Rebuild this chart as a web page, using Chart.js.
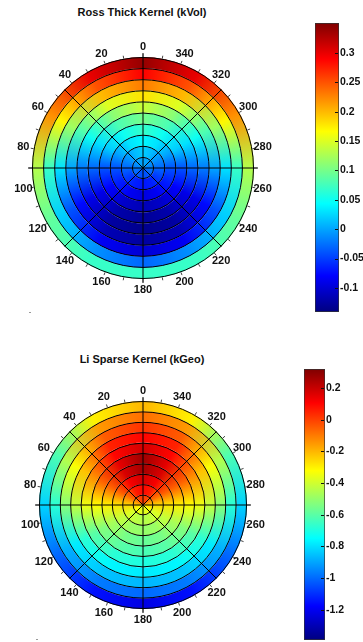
<!DOCTYPE html>
<html>
<head>
<meta charset="utf-8">
<script src="https://cdn.jsdelivr.net/npm/chart.js@4.4.1/dist/chart.umd.min.js"></script>
<style>
  body { margin: 0; width: 363px; height: 642px; position: relative; overflow: hidden; background: #fff;
         font-family: "Liberation Sans", Arial, sans-serif; }
  .title { position: absolute; left: 0; width: 284px; text-align: center; font-weight: bold; font-size: 11px;
           line-height: 13px; color: #111; }
  canvas { position: absolute; }
  .dot { position: absolute; width: 2px; height: 1px; background: #999; }
</style>
</head>
<body>
<div class="title" style="top:6px">Ross Thick Kernel (kVol)</div>
<canvas id="volPolar" width="286" height="286" style="left:0;top:25px"></canvas>
<canvas id="volBar" width="48" height="309" style="left:315px;top:13px"></canvas>
<div class="dot" style="left:29px;top:312px"></div>

<div class="title" style="top:353px">Li Sparse Kernel (kGeo)</div>
<canvas id="geoPolar" width="286" height="286" style="left:0;top:362px"></canvas>
<canvas id="geoBar" width="59" height="291" style="left:304px;top:359px"></canvas>
<div class="dot" style="left:36px;top:639px"></div>

<script>
// azimuth of each sample (deg, counter-clockwise from the top), shared by both plots
const azimuths = [0, 30, 60, 90, 120, 150, 180, 210, 240, 270, 300, 330];

// Ross Thick kernel, one row per ring (centre -> rim), values at the azimuths above
const volRings = [
  [0.00, 0.00, -0.01, -0.02, -0.03, -0.04, -0.04, -0.04, -0.03, -0.02, -0.01, 0.00],
  [0.02, 0.01, -0.01, -0.03, -0.05, -0.065, -0.07, -0.065, -0.05, -0.03, -0.01, 0.01],
  [0.04, 0.03, 0.00, -0.04, -0.065, -0.085, -0.095, -0.085, -0.065, -0.04, 0.00, 0.03],
  [0.07, 0.05, 0.02, -0.04, -0.08, -0.105, -0.115, -0.105, -0.08, -0.04, 0.02, 0.05],
  [0.10, 0.08, 0.03, -0.03, -0.09, -0.12, -0.13, -0.12, -0.09, -0.03, 0.03, 0.08],
  [0.14, 0.11, 0.05, -0.02, -0.09, -0.125, -0.135, -0.125, -0.09, -0.02, 0.05, 0.11],
  [0.18, 0.15, 0.08, 0.00, -0.075, -0.115, -0.125, -0.115, -0.075, 0.00, 0.08, 0.15],
  [0.23, 0.20, 0.12, 0.03, -0.04, -0.085, -0.10, -0.085, -0.04, 0.03, 0.12, 0.20],
  [0.29, 0.25, 0.17, 0.07, 0.02, -0.01, -0.03, -0.01, 0.02, 0.07, 0.17, 0.25],
  [0.34, 0.30, 0.22, 0.13, 0.09, 0.07, 0.07, 0.07, 0.09, 0.13, 0.22, 0.30]
];
const volRange = [-0.141, 0.351];
const volTicks = [-0.1, -0.05, 0, 0.05, 0.1, 0.15, 0.2, 0.25, 0.3];

// Li Sparse kernel, same layout
const geoRings = [
  [0.00, 0.00, -0.12, -0.24, -0.33, -0.36, -0.38, -0.36, -0.33, -0.24, -0.12, 0.00],
  [0.10, 0.06, -0.08, -0.26, -0.38, -0.43, -0.45, -0.43, -0.38, -0.26, -0.08, 0.06],
  [0.18, 0.12, -0.05, -0.28, -0.42, -0.49, -0.50, -0.49, -0.42, -0.28, -0.05, 0.12],
  [0.26, 0.17, -0.05, -0.30, -0.47, -0.55, -0.58, -0.55, -0.47, -0.30, -0.05, 0.17],
  [0.27, 0.15, -0.06, -0.32, -0.53, -0.60, -0.63, -0.60, -0.53, -0.32, -0.06, 0.15],
  [0.18, 0.10, -0.13, -0.35, -0.60, -0.68, -0.70, -0.68, -0.60, -0.35, -0.13, 0.10],
  [0.10, 0.05, -0.22, -0.42, -0.68, -0.76, -0.78, -0.76, -0.68, -0.42, -0.22, 0.05],
  [0.02, -0.05, -0.33, -0.52, -0.78, -0.85, -0.87, -0.85, -0.78, -0.52, -0.33, -0.05],
  [-0.08, -0.15, -0.45, -0.68, -0.88, -0.97, -1.00, -0.97, -0.88, -0.68, -0.45, -0.15],
  [-0.20, -0.30, -0.62, -0.82, -1.00, -1.15, -1.22, -1.15, -1.00, -0.82, -0.62, -0.30]
];
const geoRange = [-1.39, 0.32];
const geoTicks = [-1.2, -1, -0.8, -0.6, -0.4, -0.2, 0, 0.2];

const angleLabels = [0, 20, 40, 60, 80, 100, 120, 140, 160, 180, 200, 220, 240, 260, 280, 300, 320, 340];
const spokeAngles = [0, 45, 90, 135, 180, 225, 270, 315];

const FONT_FAMILY = '"Liberation Sans", Arial, sans-serif';

function jet(f) {
  f = Math.min(1, Math.max(0, f));
  const c = (v) => Math.round(255 * Math.min(1, Math.max(0, v)));
  const r = c(1.5 - Math.abs(4 * f - 3));
  const g = c(1.5 - Math.abs(4 * f - 2));
  const b = c(1.5 - Math.abs(4 * f - 1));
  return `rgb(${r},${g},${b})`;
}

// canvas angle for an azimuth measured counter-clockwise from the top
const toRad = (az) => (-90 - az) * Math.PI / 180;

const polarGrid = {
  id: "polarGrid",
  afterDatasetsDraw(chart) {
    const ctx = chart.ctx;
    const arcs = chart.data.datasets.map((d, i) => chart.getDatasetMeta(i).data[0]);
    const cx = arcs[0].x;
    const cy = arcs[0].y;
    const R = arcs[0].outerRadius;

    ctx.save();
    ctx.strokeStyle = "#000";
    ctx.lineWidth = 1;
    arcs.forEach((a) => {
      ctx.beginPath();
      ctx.arc(cx, cy, a.outerRadius - 0.5, 0, Math.PI * 2);
      ctx.stroke();
    });

    ctx.beginPath();
    spokeAngles.forEach((az) => {
      const len = az % 90 === 0 ? R + 4 : R;
      ctx.moveTo(cx, cy);
      ctx.lineTo(cx + len * Math.cos(toRad(az)), cy + len * Math.sin(toRad(az)));
    });
    ctx.stroke();

    // small ticks round the rim
    ctx.strokeStyle = "#444";
    ctx.beginPath();
    for (let az = 0; az < 360; az += 10) {
      const t = toRad(az);
      ctx.moveTo(cx + R * Math.cos(t), cy + R * Math.sin(t));
      ctx.lineTo(cx + (R + 3) * Math.cos(t), cy + (R + 3) * Math.sin(t));
    }
    ctx.stroke();

    ctx.fillStyle = "#111";
    ctx.font = `bold 11px ${FONT_FAMILY}`;
    ctx.textAlign = "center";
    ctx.textBaseline = "middle";
    const lr = R + 10.5;
    angleLabels.forEach((az) => {
      const t = toRad(az);
      ctx.fillText(String(az), cx + lr * Math.cos(t), cy + lr * Math.sin(t));
    });
    ctx.restore();
  }
};

function makePolar(id, rings, range, pad) {
  const [lo, hi] = range;
  const datasets = rings.slice().reverse().map((values) => ({
    data: [1],
    borderWidth: 0,
    backgroundColor: (c) => {
      const area = c.chart.chartArea;
      if (!area) return "#fff";
      const cx = (area.left + area.right) / 2;
      const cy = (area.top + area.bottom) / 2;
      const g = c.chart.ctx.createConicGradient(-Math.PI / 2, cx, cy);
      azimuths.forEach((az, k) => {
        g.addColorStop(((360 - az) % 360) / 360, jet((values[k] - lo) / (hi - lo)));
      });
      g.addColorStop(1, jet((values[0] - lo) / (hi - lo)));
      return g;
    }
  }));

  new Chart(document.getElementById(id), {
    type: "doughnut",
    data: { labels: ["ring"], datasets },
    options: {
      responsive: false,
      animation: false,
      events: [],
      cutout: 0,
      layout: { padding: pad },
      plugins: { legend: { display: false }, tooltip: { enabled: false } }
    },
    plugins: [polarGrid]
  });
}

const barTicks = {
  id: "barTicks",
  afterDatasetsDraw(chart) {
    const ctx = chart.ctx;
    const y = chart.scales.y;
    const right = chart.chartArea.right;
    ctx.save();
    ctx.strokeStyle = "#111";
    ctx.lineWidth = 1;
    ctx.beginPath();
    y.ticks.forEach((t) => {
      const py = Math.round(y.getPixelForValue(t.value)) + 0.5;
      ctx.moveTo(right - 1, py);
      ctx.lineTo(right - 4, py);
    });
    ctx.stroke();
    ctx.restore();
  }
};

function makeBar(id, range, ticks, barWidth) {
  const [lo, hi] = range;
  new Chart(document.getElementById(id), {
    type: "bar",
    data: {
      labels: [""],
      datasets: [{
        data: [[lo, hi]],
        barPercentage: 1,
        categoryPercentage: 1,
        borderWidth: 1,
        borderColor: "#333",
        borderSkipped: false,
        backgroundColor: (c) => {
          const chart = c.chart;
          if (!chart.chartArea) return "#fff";
          const y = chart.scales.y;
          const g = chart.ctx.createLinearGradient(0, y.getPixelForValue(lo), 0, y.getPixelForValue(hi));
          for (let i = 0; i <= 64; i++) g.addColorStop(i / 64, jet(i / 64));
          return g;
        }
      }]
    },
    options: {
      responsive: false,
      animation: false,
      events: [],
      layout: { padding: { top: 10, bottom: 10, left: 0, right: 0 } },
      plugins: { legend: { display: false }, tooltip: { enabled: false } },
      scales: {
        x: { display: false },
        y: {
          position: "right",
          min: lo,
          max: hi,
          afterBuildTicks: (axis) => { axis.ticks = ticks.map((v) => ({ value: v })); },
          afterFit: (axis) => { axis.width = axis.chart.width - barWidth; },
          grid: { display: false, drawTicks: false },
          border: { display: false },
          ticks: {
            font: { family: FONT_FAMILY, size: 10.5, weight: "bold" },
            color: "#111",
            padding: 1,
            callback: (v) => String(v)
          }
        }
      }
    },
    plugins: [barTicks]
  });
}

makePolar("volPolar", volRings, volRange, 32);
makeBar("volBar", volRange, volTicks, 24);
makePolar("geoPolar", geoRings, geoRange, 39);
makeBar("geoBar", geoRange, geoTicks, 21);
</script>
</body>
</html>
